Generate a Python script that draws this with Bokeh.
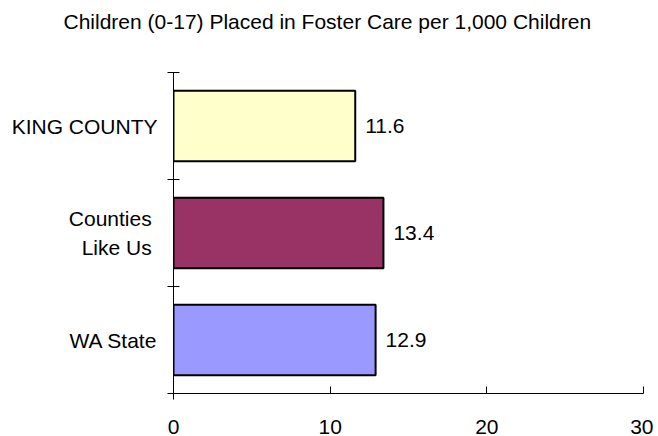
from bokeh.plotting import figure
from bokeh.models import FixedTicker, ColumnDataSource, Title
from bokeh.core.properties import value
from bokeh.embed import file_html
from bokeh.resources import INLINE

categories = ["WA State", "Counties Like Us", "KING COUNTY"]
labels = ["WA State", "Counties\u00a0\nLike Us\u00a0", "KING COUNTY"]
rates = [12.9, 13.4, 11.6]
colors = ["#9999FF", "#993366", "#FFFFCC"]
x_ticks = [0, 10, 20, 30]
title_text = "Children (0-17) Placed in Foster Care per 1,000 Children"

ypos = [i + 0.5 for i in range(len(categories))]
src = ColumnDataSource(dict(y=ypos, v=rates, c=colors, t=[f"{r:.1f}" for r in rates]))

FONT = "Liberation Sans"
FS = "21px"
p = figure(width=653, height=436, output_backend="svg", toolbar_location=None,
           x_range=(0, 30), y_range=(0, 3),
           min_border_left=173, min_border_right=10, min_border_top=72, min_border_bottom=42)
p.add_layout(Title(text=" ", text_font_size="1px", standoff=37), "above")
p.add_layout(Title(text=title_text, text_font=FONT, text_font_size=FS,
                   text_font_style="normal", align="left", offset=-110, standoff=0,
                   text_color="black"), "above")
p.outline_line_color = None
p.background_fill_color = "white"
p.xgrid.visible = False
p.ygrid.visible = False

p.hbar(y="y", right="v", left=0, height=0.66, fill_color="c", line_color="black",
       line_width=2, source=src)
p.text(x="v", y="y", text="t", source=src, x_offset=10, text_baseline="middle",
       text_align="left", text_font=value(FONT), text_font_size=FS, text_color="black")

xa = p.xaxis[0]
xa.ticker = FixedTicker(ticks=x_ticks, minor_ticks=[0])
xa.major_tick_in = 7
xa.major_tick_out = 0
xa.minor_tick_in = 0
xa.minor_tick_out = 6
xa.minor_tick_line_color = "black"
xa.axis_line_color = "black"
xa.major_tick_line_color = "black"
xa.major_label_text_font = FONT
xa.major_label_text_font_size = FS
xa.major_label_text_color = "black"
xa.major_label_standoff = 20

ya = p.yaxis[0]
ya.ticker = FixedTicker(ticks=ypos, minor_ticks=[0, 1, 2, 3])
ya.major_label_overrides = {y: l for y, l in zip(ypos, labels)}
ya.major_tick_in = 0
ya.major_tick_out = 0
ya.minor_tick_in = 6
ya.minor_tick_out = 6
ya.minor_tick_line_color = "black"
ya.axis_line_color = "black"
ya.major_label_text_font = FONT
ya.major_label_text_font_size = FS
ya.major_label_text_color = "black"
ya.major_label_text_line_height = 1.3
ya.major_label_standoff = 10

open("out.html", "w").write(file_html(p, INLINE))
